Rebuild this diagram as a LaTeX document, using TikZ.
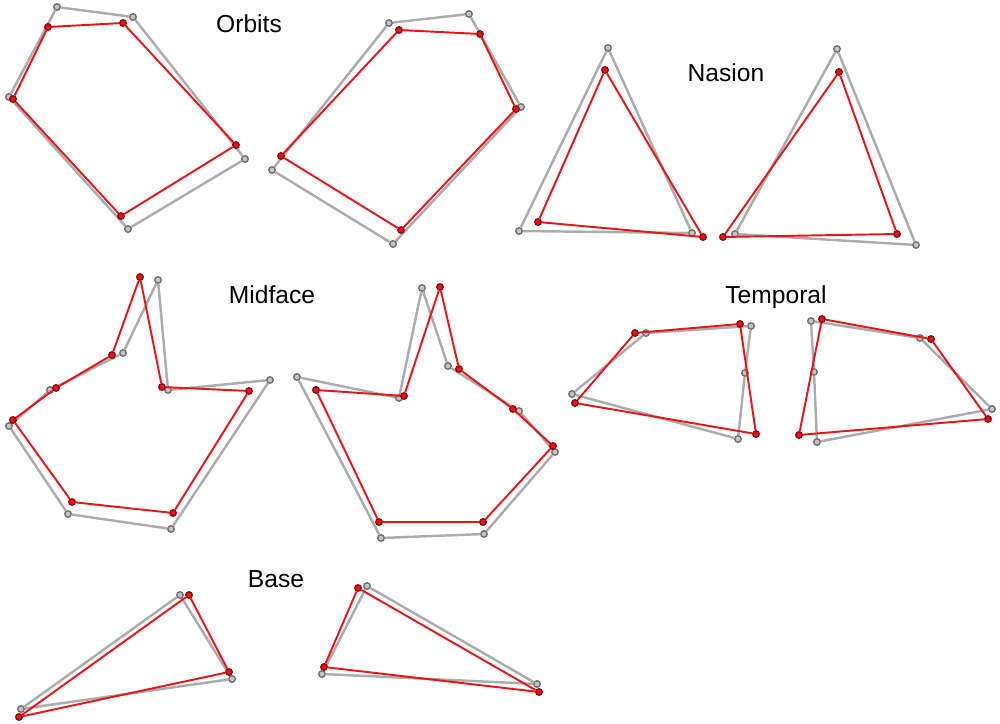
\documentclass[tikz,border=0pt]{standalone}
\usepackage{fontspec}
\setmainfont{Liberation Sans}
\usepackage{tikz}

\definecolor{shapegray}{RGB}{172,172,172}
\definecolor{dotgray}{RGB}{112,112,112}
\definecolor{shapered}{RGB}{232,20,24}
\definecolor{dotred}{RGB}{150,10,10}

\tikzset{
  gdot/.style={circle, draw=dotgray, fill=shapegray!70, line width=0.4pt, inner sep=0pt, minimum size=0.65mm},
  rdot/.style={circle, draw=dotred, fill=shapered, line width=0.4pt, inner sep=0pt, minimum size=0.65mm},
  gline/.style={draw=shapegray, line width=0.7pt},
  rline/.style={draw=shapered, line width=0.55pt},
  tag/.style={font=\fontsize{7}{8.4}\selectfont, inner sep=0pt}
}

% closed outline through nodes #1 1..#2
\newcommand{\ring}[3]{\foreach \i [remember=\i as \j (initially #2)] in {1,...,#2} \draw[#3] (#1\j) -- (#1\i);}

\begin{document}
\begin{tikzpicture}[x=0.1mm, y=-0.1mm]
  \useasboundingbox (0,0) rectangle (1000,724);

  % labels
  \node[tag] (orbits) at (249,24) {Orbits};
  \node[tag] (nasion) at (726,73) {Nasion};
  \node[tag] (midface) at (272,295) {Midface};
  \node[tag] (temporal) at (776,297) {Temporal};
  \node[tag] (base) at (276,579) {Base};

  % gray (reference) landmarks
  \foreach \k/\x/\y in {1/57/7, 2/133/17, 3/245/159, 4/128/229, 5/9/97}
    \node[gdot] (gOL\k) at (\x,\y) {};
  \foreach \k/\x/\y in {1/389/23, 2/469/14, 3/521/107, 4/393/244, 5/272/170}
    \node[gdot] (gOR\k) at (\x,\y) {};
  \foreach \k/\x/\y in {1/608/48, 2/692/233, 3/519/231}
    \node[gdot] (gNL\k) at (\x,\y) {};
  \foreach \k/\x/\y in {1/837/49, 2/916/245, 3/735/234}
    \node[gdot] (gNR\k) at (\x,\y) {};
  \foreach \k/\x/\y in {1/158/280, 2/123/353, 3/50/390, 4/9/426, 5/68/514, 6/171/529, 7/270/380, 8/168/390}
    \node[gdot] (gML\k) at (\x,\y) {};
  \foreach \k/\x/\y in {1/422/288, 2/448/366, 3/519/411, 4/555/452, 5/484/534, 6/381/538, 7/297/377, 8/399/398}
    \node[gdot] (gMR\k) at (\x,\y) {};
  \foreach \k/\x/\y in {1/646/333, 2/751/326, 3/745/373, 4/738/439, 5/572/394}
    \node[gdot] (gTL\k) at (\x,\y) {};
  \foreach \k/\x/\y in {1/811/321, 2/920/338, 3/992/409, 4/817/442, 5/814/372}
    \node[gdot] (gTR\k) at (\x,\y) {};
  \foreach \k/\x/\y in {1/180/595, 2/232/679, 3/21/709}
    \node[gdot] (gBL\k) at (\x,\y) {};
  \foreach \k/\x/\y in {1/367/586, 2/537/684, 3/322/674}
    \node[gdot] (gBR\k) at (\x,\y) {};

  \ring{gOL}{5}{gline} \ring{gOR}{5}{gline}
  \ring{gNL}{3}{gline} \ring{gNR}{3}{gline}
  \ring{gML}{8}{gline} \ring{gMR}{8}{gline}
  \ring{gTL}{5}{gline} \ring{gTR}{5}{gline}
  \ring{gBL}{3}{gline} \ring{gBR}{3}{gline}

  % red (mean) landmarks
  \foreach \k/\x/\y in {1/48/27, 2/123/23, 3/236/145, 4/121/216, 5/13/99}
    \node[rdot] (rOL\k) at (\x,\y) {};
  \foreach \k/\x/\y in {1/399/30, 2/480/34, 3/516/109, 4/401/230, 5/281/156}
    \node[rdot] (rOR\k) at (\x,\y) {};
  \foreach \k/\x/\y in {1/605/70, 2/703/237, 3/538/222}
    \node[rdot] (rNL\k) at (\x,\y) {};
  \foreach \k/\x/\y in {1/839/72, 2/897/234, 3/723/237}
    \node[rdot] (rNR\k) at (\x,\y) {};
  \foreach \k/\x/\y in {1/140/277, 2/112/355, 3/56/388, 4/13/420, 5/72/502, 6/173/513, 7/249/391, 8/162/387}
    \node[rdot] (rML\k) at (\x,\y) {};
  \foreach \k/\x/\y in {1/440/287, 2/459/369, 3/513/409, 4/553/446, 5/483/522, 6/379/522, 7/316/390, 8/404/396}
    \node[rdot] (rMR\k) at (\x,\y) {};
  \foreach \k/\x/\y in {1/635/333, 2/740/324, 3/756/434, 4/575/403}
    \node[rdot] (rTL\k) at (\x,\y) {};
  \foreach \k/\x/\y in {1/822/319, 2/931/339, 3/988/419, 4/799/435}
    \node[rdot] (rTR\k) at (\x,\y) {};
  \foreach \k/\x/\y in {1/189/595, 2/229/672, 3/19/717}
    \node[rdot] (rBL\k) at (\x,\y) {};
  \foreach \k/\x/\y in {1/358/588, 2/539/692, 3/324/667}
    \node[rdot] (rBR\k) at (\x,\y) {};

  \ring{rOL}{5}{rline} \ring{rOR}{5}{rline}
  \ring{rNL}{3}{rline} \ring{rNR}{3}{rline}
  \ring{rML}{8}{rline} \ring{rMR}{8}{rline}
  \ring{rTL}{4}{rline} \ring{rTR}{4}{rline}
  \ring{rBL}{3}{rline} \ring{rBR}{3}{rline}
\end{tikzpicture}
\end{document}
